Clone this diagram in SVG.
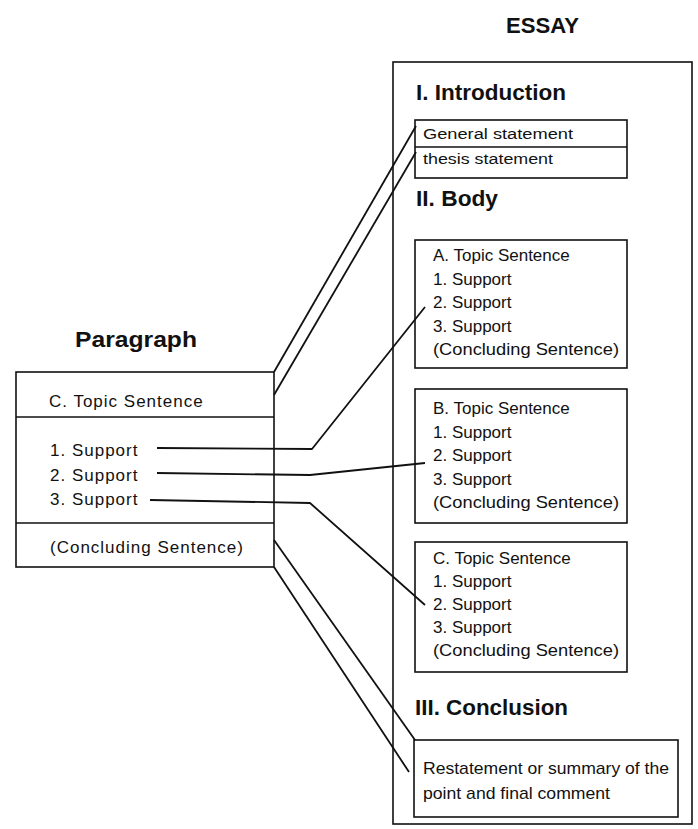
<svg xmlns="http://www.w3.org/2000/svg" width="698" height="829" viewBox="0 0 698 829">
<style>
.box{fill:none;stroke:#111;stroke-width:1.6}
.t{font-family:"Liberation Sans",Arial,sans-serif;font-size:17px;fill:#111}
.p{font-family:"Liberation Sans",Arial,sans-serif;font-size:17px;fill:#111;letter-spacing:1px}
.s{font-family:"Liberation Sans",Arial,sans-serif;font-size:15.5px;fill:#111}
.h{font-family:"Liberation Sans",Arial,sans-serif;font-size:22px;font-weight:bold;fill:#111}
.c{fill:none;stroke:#111;stroke-width:1.8;stroke-linejoin:round}
</style>
<rect width="698" height="829" fill="#fff"/>
<g id="essay">
<text class="h" x="506" y="33" textLength="73" lengthAdjust="spacingAndGlyphs">ESSAY</text>
<rect class="box" x="393" y="62" width="299" height="762"/>
<text class="h" x="416" y="100" textLength="150" lengthAdjust="spacingAndGlyphs">I. Introduction</text>
<text class="h" x="416" y="206" textLength="82" lengthAdjust="spacingAndGlyphs">II. Body</text>
<text class="h" x="415" y="715" textLength="153" lengthAdjust="spacingAndGlyphs">III. Conclusion</text>
</g>
<g id="intro">
<rect class="box" x="415" y="120" width="212" height="58"/>
<line class="box" x1="415" y1="147" x2="627" y2="147"/>
<text class="s" x="423" y="139" textLength="150" lengthAdjust="spacingAndGlyphs">General statement</text>
<text class="s" x="423" y="164" textLength="130" lengthAdjust="spacingAndGlyphs">thesis statement</text>
</g>
<g id="bodyA">
<rect class="box" x="415" y="240" width="212" height="128"/>
<text class="t" x="433" y="261">A. Topic Sentence</text>
<text class="t" x="433" y="284.5">1. Support</text>
<text class="t" x="433" y="308">2. Support</text>
<text class="t" x="433" y="331.5">3. Support</text>
<text class="t" x="433" y="355" textLength="186" lengthAdjust="spacingAndGlyphs">(Concluding Sentence)</text>
</g>
<g id="bodyB">
<rect class="box" x="415" y="389" width="212" height="134"/>
<text class="t" x="433" y="414">B. Topic Sentence</text>
<text class="t" x="433" y="437.5">1. Support</text>
<text class="t" x="433" y="461">2. Support</text>
<text class="t" x="433" y="484.5">3. Support</text>
<text class="t" x="433" y="508" textLength="186" lengthAdjust="spacingAndGlyphs">(Concluding Sentence)</text>
</g>
<g id="bodyC">
<rect class="box" x="415" y="542" width="212" height="130"/>
<text class="t" x="433" y="564">C. Topic Sentence</text>
<text class="t" x="433" y="587">1. Support</text>
<text class="t" x="433" y="610">2. Support</text>
<text class="t" x="433" y="633">3. Support</text>
<text class="t" x="433" y="656" textLength="186" lengthAdjust="spacingAndGlyphs">(Concluding Sentence)</text>
</g>
<g id="conclusion">
<rect class="box" x="414" y="740" width="264" height="77"/>
<text class="t" x="423" y="774" textLength="246" lengthAdjust="spacingAndGlyphs">Restatement or summary of the</text>
<text class="t" x="423" y="799" textLength="187" lengthAdjust="spacingAndGlyphs">point and final comment</text>
</g>
<g id="paragraph">
<text class="h" x="75" y="347" textLength="122" lengthAdjust="spacingAndGlyphs">Paragraph</text>
<rect class="box" x="16" y="372" width="258" height="195"/>
<line class="box" x1="16" y1="417" x2="274" y2="417"/>
<line class="box" x1="16" y1="523" x2="274" y2="523"/>
<text class="p" x="49" y="407">C. Topic Sentence</text>
<text class="p" x="50" y="456">1. Support</text>
<text class="p" x="50" y="481">2. Support</text>
<text class="p" x="50" y="505">3. Support</text>
<text class="p" x="50" y="553">(Concluding Sentence)</text>
</g>
<g id="connectors">
<polyline class="c" points="274,372 416,126"/>
<polyline class="c" points="274,395 416,152"/>
<polyline class="c" points="157,448 312,449 425,307"/>
<polyline class="c" points="157,473 310,475 425,463"/>
<polyline class="c" points="150,500 310,503 425,605"/>
<polyline class="c" points="274,540 415,740"/>
<polyline class="c" points="274,567 409,772"/>
</g>
</svg>
